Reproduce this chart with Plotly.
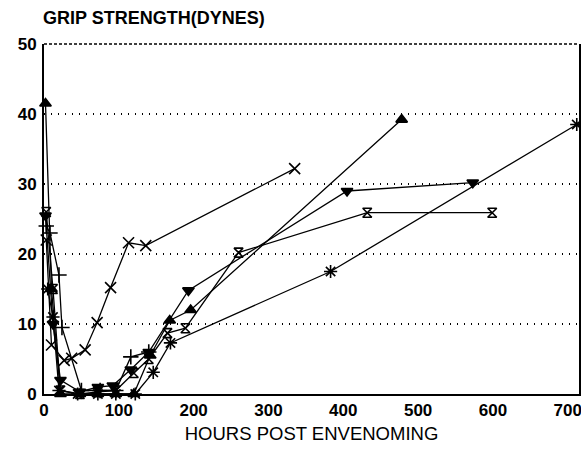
import plotly.graph_objects as go

# Series data (hours post envenoming, grip strength in dynes)
cross_hours = [3, 10, 27, 37, 55, 71, 89, 113, 136, 335]
cross_vals = [22.0, 7.0, 4.8, 5.1, 6.3, 10.2, 15.2, 21.6, 21.2, 32.2]

tri_up_hours = [2, 10, 22, 48, 72, 96, 120, 142, 168, 196, 478]
tri_up_vals = [41.5, 15.0, 0.0, 0.0, 0.0, 0.0, 0.0, 5.5, 10.5, 12.0, 39.2]

tri_down_hours = [2, 12, 22, 48, 72, 92, 116, 140, 193, 405, 573]
tri_down_vals = [25.5, 10.0, 2.0, 0.3, 1.0, 1.2, 3.5, 6.0, 14.8, 29.0, 30.2]

hourglass_hours = [3, 12, 22, 48, 72, 96, 120, 140, 165, 189, 260, 432, 599]
hourglass_vals = [26.0, 15.0, 0.5, 0.0, 0.3, 0.5, 3.0, 5.0, 8.7, 9.4, 20.2, 25.9, 25.9]

aster_hours = [5, 12, 20, 45, 72, 96, 122, 146, 169, 383, 712]
aster_vals = [15.0, 11.0, 0.5, 0.0, 0.0, 0.0, 0.0, 3.1, 7.3, 17.5, 38.5]

plus_hours = [3, 8, 20, 24, 50, 75, 96, 116, 140]
plus_vals = [24.0, 23.0, 17.0, 9.5, 0.5, 0.5, 0.5, 5.3, 6.0]

x_ticks = [0, 100, 200, 300, 400, 500, 600, 700]
y_ticks = [0, 10, 20, 30, 40, 50]

series = [
    (cross_hours, cross_vals, "x-thin-open", 11),
    (tri_up_hours, tri_up_vals, "triangle-up", 10),
    (tri_down_hours, tri_down_vals, "triangle-down", 10),
    (hourglass_hours, hourglass_vals, "hourglass-open", 9),
    (aster_hours, aster_vals, "asterisk-open", 11),
    (plus_hours, plus_vals, "cross-thin-open", 11),
]

fig = go.Figure()
for xs, ys, sym, sz in series:
    fig.add_trace(go.Scatter(
        x=xs, y=ys, mode="lines+markers",
        line=dict(color="black", width=1.3),
        marker=dict(symbol=sym, size=sz, color="black",
                    line=dict(color="black", width=1.6)),
        showlegend=False, cliponaxis=False,
    ))

tickfont = dict(size=17, family="Liberation Sans, Arial", weight="bold", color="black")

fig.update_layout(
    width=581, height=450,
    margin=dict(l=44, r=2, t=44, b=56),
    paper_bgcolor="white", plot_bgcolor="white",
    font=dict(family="Liberation Sans, Arial, sans-serif", color="black"),
    xaxis=dict(
        range=[0, 715], tickvals=x_ticks,
        ticktext=[str(v) for v in x_ticks],
        tickfont=tickfont, automargin=False, ticklabeloverflow="allow",
        showgrid=False, zeroline=False,
        showline=True, linecolor="black", linewidth=2,
        ticks="", ticklabelstandoff=0,
        title=dict(text="HOURS POST ENVENOMING",
                   font=dict(size=18.5, color="black"), standoff=8),
    ),
    yaxis=dict(
        range=[0, 50], tickvals=y_ticks,
        ticktext=[str(v) for v in y_ticks],
        tickfont=tickfont, automargin=False,
        showgrid=True, gridcolor="black", griddash="1px,6px", gridwidth=1.5,
        zeroline=False,
        showline=True, linecolor="black", linewidth=2, mirror=True,
        ticks="", ticklabelstandoff=2,
    ),
    shapes=[dict(type="line", xref="paper", yref="paper", x0=0, x1=1, y0=1, y1=1,
                 line=dict(color="black", width=1.5, dash="3px,2px"))],
    annotations=[dict(
        text="GRIP STRENGTH(DYNES)", xref="paper", yref="paper",
        x=0, y=1, xanchor="left", yanchor="bottom", xshift=-3, yshift=14,
        showarrow=False,
        font=dict(size=18, family="Liberation Sans, Arial", weight="bold", color="black"),
    )],
)

fig.write_html(
    "out.html",
    config={"displayModeBar": False},
    post_script="document.body.style.margin='0';document.body.style.overflow='hidden';",
)
